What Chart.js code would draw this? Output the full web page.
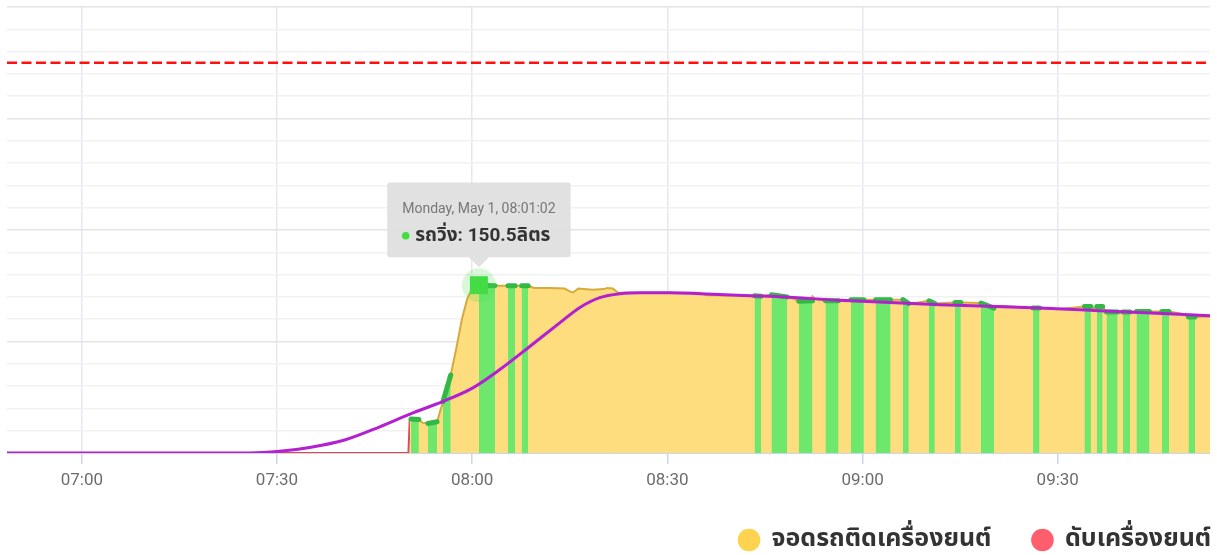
<!DOCTYPE html>
<html>
<head>
<meta charset="utf-8">
<script src="https://cdn.jsdelivr.net/npm/chart.js@4/dist/chart.umd.min.js"></script>
<style>
html,body{margin:0;padding:0;background:#fff;overflow:hidden}
#wrap{width:1217px;height:555px;position:relative}
</style>
</head>
<body>
<div id="wrap"><canvas id="c" width="1217" height="555"></canvas></div>
<script>
// ---------------- DATA ----------------
const xTickLabels = ['07:00', '07:30', '08:00', '08:30', '09:00', '09:30'];
const xStart = '06:48:30';
const xEnd = '09:53:24';
const yMax = 400;
const yStep = 20;
const capacityLine = 350;

// engine off (red)
const offTimes  = ['06:48:30', '07:50:12', '07:50:24'];
const offValues = [0, 0, 30.5];

// engine on, parked (yellow) — minutes after midnight
const idleMinutes = [470.4, 470.6, 471.8, 472.4, 473.2, 474.6, 475.5, 476.7, 477.6, 478.4, 479.2, 479.8, 480.4, 481.03,
  483.5, 485.5, 486.6, 487.6, 488.6, 489.5, 492.0, 494.2, 495.0, 495.5, 496.3, 498.5, 500.2, 500.8, 501.6, 502.4,
  508.0, 515.0, 516.0, 523.4, 524.4, 526.0, 528.4, 529.2, 530.2, 532.1, 532.3, 532.7, 534.3, 536.3, 538.2, 540.2,
  542.0, 544.3, 546.2, 547.1, 548.5, 550.2, 551.1, 554.2, 555.1, 558.2, 560.2, 561.0, 566.2, 567.2, 570.0, 574.1,
  575.1, 575.5, 576.0, 576.9, 577.5, 579.2, 580.0, 581.1, 582.1, 584.1, 586.0, 587.1, 589.0, 590.1, 591.1, 593.4];
const idleValues = [30.5, 30.5, 30.0, 27.0, 26.5, 28.0, 46.0, 70.0, 95.0, 119.5, 137.5, 145.5, 149.0, 150.5,
  150.0, 150.0, 150.0, 150.0, 150.0, 148.0, 148.0, 147.5, 145.0, 144.0, 147.5, 146.5, 147.0, 148.0, 147.5, 144.0,
  143.8, 143.8, 141.5, 141.0, 140.5, 142.0, 140.0, 139.0, 136.0, 136.5, 140.5, 138.0, 136.6, 136.6, 137.5, 137.5,
  137.5, 137.5, 137.5, 134.0, 135.0, 136.5, 134.0, 135.0, 135.0, 134.5, 130.0, 132.0, 130.0, 130.0, 129.0, 131.5,
  131.5, 129.5, 131.5, 131.5, 126.5, 126.5, 126.5, 126.5, 127.0, 127.0, 127.0, 127.0, 125.0, 122.0, 122.0, 122.5];

// driving (green) segments: start / end minute and level at each end
const driveStart    = [470.6, 473.2, 475.5, 481.03, 485.5, 487.6, 523.4, 526.0, 530.2, 534.3, 538.2, 542.0, 546.2, 550.2, 554.2, 558.2, 566.2, 574.1, 576.0, 577.5, 580.0, 582.1, 586.0, 590.1];
const driveEnd      = [471.8, 474.6, 476.7, 483.5, 486.6, 488.6, 524.4, 528.4, 532.3, 536.3, 540.2, 544.3, 547.1, 551.1, 555.1, 560.2, 567.2, 575.1, 576.9, 579.2, 581.1, 584.1, 587.1, 591.1];
const driveStartVal = [30.5, 26.5, 46.0, 150.5, 150.0, 150.0, 141.0, 142.0, 136.0, 136.6, 137.5, 137.5, 137.5, 136.5, 135.0, 134.5, 130.0, 131.5, 131.5, 126.5, 126.5, 127.0, 127.0, 122.0];
const driveEndVal   = [30.0, 28.0, 70.0, 150.0, 150.0, 150.0, 140.5, 140.0, 136.5, 136.6, 137.5, 137.5, 134.0, 134.0, 135.0, 130.0, 130.0, 131.5, 131.5, 126.5, 126.5, 127.0, 127.0, 122.0];

// smoothed level (purple)
const trendMinutes = [408.5, 445.8, 450.4, 455.0, 460.4, 465.8, 470.9, 476.1, 480.1, 484.2, 488.8, 493.5, 496.5, 499.6, 502.7, 505.8, 510.4, 515.0, 522.7, 527.3, 536.5, 551.9, 567.2, 576.4, 593.5];
const trendValues  = [0, 0, 1.5, 5.0, 11.7, 23.5, 36.0, 47.6, 58.4, 74.6, 95.3, 116.9, 130.3, 139.3, 142.9, 143.8, 143.8, 142.9, 141.1, 140.2, 136.9, 133.0, 130.0, 127.6, 123.1];

// highlighted point
const tooltipDay = 'Monday, May 1';
const tooltipTime = '08:01:02';
const tooltipValue = 150.5;
const unit = 'ลิตร';

const labelIdle = 'จอดรถติดเครื่องยนต์';
const labelOff = 'ดับเครื่องยนต์';
const labelDrive = 'รถวิ่ง';

// ---------------- HELPERS ----------------
const toMin = s => { const p = s.split(':').map(Number); return p[0] * 60 + p[1] + (p[2] || 0) / 60; };
const fmt = m => { const h = Math.floor(m / 60), mm = Math.round(m - h * 60); return String(h).padStart(2, '0') + ':' + String(mm).padStart(2, '0'); };

const idleData = idleMinutes.map((x, i) => ({x, y: idleValues[i]}));
const offData = offTimes.map((t, i) => ({x: toMin(t), y: offValues[i]}));
const driveData = [];
driveStart.forEach((s, i) => {
  if (i > 0) driveData.push({x: (driveEnd[i - 1] + s) / 2, y: null});
  driveData.push({x: s, y: driveStartVal[i]});
  driveData.push({x: driveEnd[i], y: driveEndVal[i]});
});
const trendData = trendMinutes.map((x, i) => ({x, y: trendValues[i]}));
const xMin = toMin(xStart), xMax = toMin(xEnd);
const capData = [{x: xMin, y: capacityLine}, {x: xMax, y: capacityLine}];
const markX = toMin(tooltipTime);
const markData = [{x: markX, y: tooltipValue}];

const FONT = 'Roboto, "Noto Sans Thai", "Noto Sans", sans-serif';
Chart.defaults.font.family = FONT;

const legendColors = {};
legendColors[labelIdle] = '#fdd34f';
legendColors[labelOff] = '#ff5e6c';

// legend geometry
const LEGEND_FIRST_CX = 749;
const LEGEND_CY = 540;
const LEG_FS = 25;
const LEG_PAD = 41;
const LEG_BOXW = 20;
const X_AXIS_H = 40;
const PLOT_BOTTOM = 453;
const legendHeight = Math.max(LEG_FS, 16) + LEG_PAD + 10;
const bottomPad = 555 - PLOT_BOTTOM - X_AXIS_H - legendHeight;

const legendPlace = {
  id: 'legendPlace',
  afterLayout(chart) {
    const lg = chart.legend;
    if (!lg) return;
    const bw = Math.min(LEG_BOXW, LEG_FS);
    const dx = (LEGEND_FIRST_CX - bw / 2 - LEG_PAD) - lg.left;
    lg.left += dx; lg.right += dx;
    const dy = (LEGEND_CY - LEG_PAD - LEG_FS / 2) - lg.top;
    lg.top += dy; lg.bottom += dy;
  }
};

const chart = new Chart(document.getElementById('c'), {
  type: 'line',
  data: {
    datasets: [
      { label: '__mark', data: markData, showLine: false, pointStyle: 'rect', pointRadius: 12.7, pointHoverRadius: 0,
        backgroundColor: '#44dc44', borderColor: '#44dc44', borderWidth: 0, order: 0 },
      { label: '__halo', data: markData, showLine: false, pointStyle: 'circle', pointRadius: 17, pointHoverRadius: 0,
        backgroundColor: 'rgba(80,220,80,0.22)', borderColor: 'rgba(80,220,80,0.22)', borderWidth: 0, order: 1 },
      { label: '__trend', data: trendData, borderColor: '#b41fd2', borderWidth: 3, pointRadius: 0,
        cubicInterpolationMode: 'monotone', fill: false, order: 2 },
      { label: labelDrive, data: driveData, borderColor: '#34b845', borderWidth: 5, borderCapStyle: 'round',
        borderJoinStyle: 'round', backgroundColor: '#6de86d', pointRadius: 0, fill: 'origin', spanGaps: false, order: 3 },
      { label: labelIdle, data: idleData, borderColor: '#d6aa3c', borderWidth: 2, backgroundColor: '#fddd7e',
        pointRadius: 0, fill: 'origin', order: 4 },
      { label: labelOff, data: offData, borderColor: '#e0484c', borderWidth: 2, backgroundColor: '#ff5e6c',
        pointRadius: 0, fill: false, order: 5 },
      { label: '__cap', data: capData, borderColor: '#ff1010', borderWidth: 2.5, borderDash: [10, 4.5],
        pointRadius: 0, fill: false, order: 6 }
    ]
  },
  options: {
    responsive: false,
    animation: false,
    events: [],
    devicePixelRatio: 1,
    layout: { autoPadding: false, padding: { left: 7, right: 7, top: 7, bottom: bottomPad } },
    scales: {
      x: {
        type: 'linear', min: xMin, max: xMax,
        afterBuildTicks: scale => { scale.ticks = xTickLabels.map(t => ({value: toMin(t)})); },
        afterFit: scale => { scale.height = X_AXIS_H; },
        ticks: { callback: v => fmt(v), color: '#6c6c6c', font: { size: 17 }, padding: 7, maxRotation: 0, autoSkip: false },
        grid: { color: '#e8e8ec', lineWidth: 1.5, tickLength: 11, tickColor: '#ccd6eb', drawTicks: true },
        border: { display: true, color: '#ccd6eb', width: 1 }
      },
      y: {
        min: 0, max: yMax,
        ticks: { display: false, stepSize: yStep },
        grid: { color: c => (c.tick && c.tick.value % 100 === 0) ? '#e4e4e4' : '#f1f1f1', lineWidth: 1.5, drawTicks: false },
        border: { display: false }
      }
    },
    plugins: {
      legend: {
        position: 'bottom', align: 'start',
        labels: {
          usePointStyle: true, pointStyle: 'circle', boxWidth: LEG_BOXW, boxHeight: 16, padding: LEG_PAD,
          color: '#333', font: { size: LEG_FS, weight: 'bold' },
          filter: item => item.text === labelIdle || item.text === labelOff,
          generateLabels: ch => Chart.defaults.plugins.legend.labels.generateLabels(ch).map(it => {
            const c = legendColors[it.text];
            if (c) { it.fillStyle = c; it.strokeStyle = c; it.lineWidth = 0; it.lineDash = []; it.pointStyle = 'circle'; }
            return it;
          })
        }
      },
      tooltip: {
        enabled: true, yAlign: 'bottom', xAlign: 'center', caretSize: 10, caretPadding: 18,
        backgroundColor: 'rgba(224,224,224,0.96)', titleColor: '#777', bodyColor: '#333',
        titleFont: { size: 14, weight: 'normal' }, bodyFont: { size: 19, weight: 'bold' },
        padding: { top: 19, bottom: 10, left: 15, right: 15 }, titleMarginBottom: 6, cornerRadius: 3,
        displayColors: true, usePointStyle: true, boxWidth: 7, boxHeight: 7, boxPadding: 4,
        callbacks: {
          title: () => tooltipDay + ', ' + tooltipTime,
          label: ctx => labelDrive + ': ' + ctx.parsed.y + unit,
          labelColor: () => ({ borderColor: '#44dd44', backgroundColor: '#44dd44' }),
          labelPointStyle: () => ({ pointStyle: 'circle', rotation: 0 })
        }
      }
    }
  },
  plugins: [legendPlace]
});

chart.tooltip.setActiveElements([{datasetIndex: 0, index: 0}], {x: 0, y: 0});
chart.update('none');
</script>
</body>
</html>
